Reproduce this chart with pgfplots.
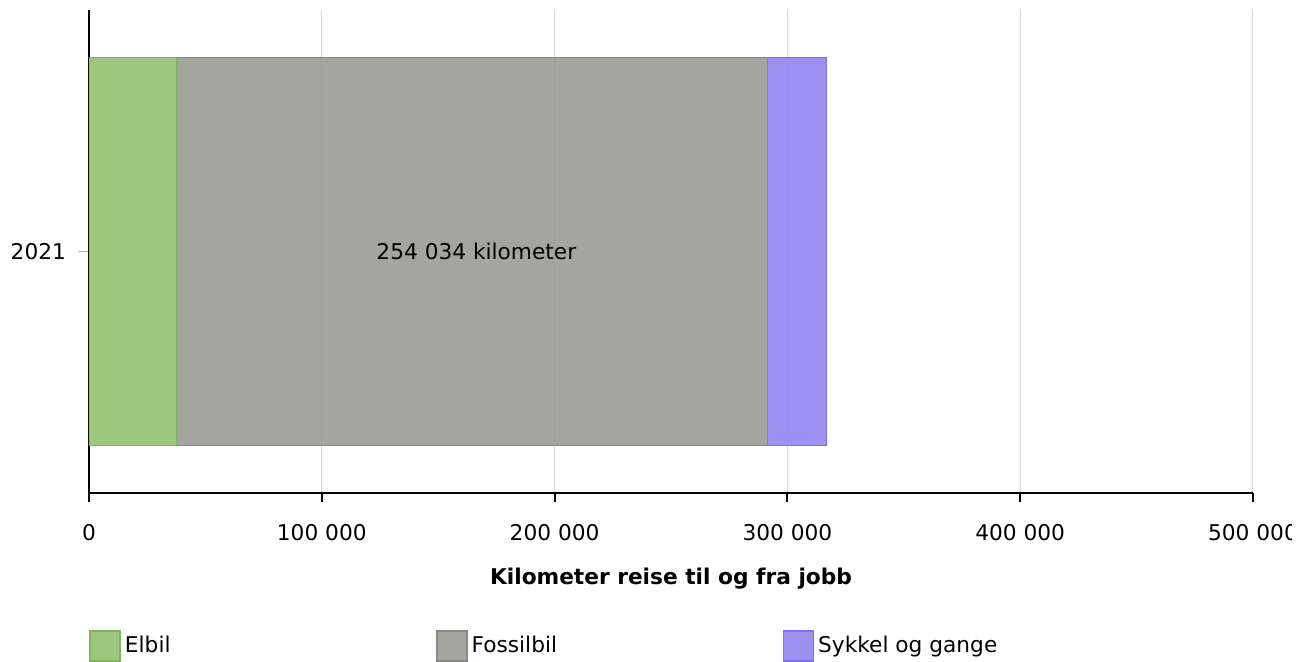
\documentclass[border=0pt]{standalone}
\usepackage{fontspec}
\setmainfont{DejaVu Sans}
\usepackage{pgfplots}
\pgfplotsset{compat=1.18}
\definecolor{elbil}{RGB}{146,192,113}
\definecolor{elbilB}{RGB}{128,180,95}
\definecolor{fossil}{RGB}{153,155,148}
\definecolor{fossilB}{RGB}{135,137,130}
\definecolor{sykkel}{RGB}{147,132,241}
\definecolor{sykkelB}{RGB}{128,110,235}
\definecolor{gridgray}{RGB}{216,216,216}
\begin{document}
\begin{tikzpicture}[font=\fontsize{10.85}{13}\selectfont]
\begin{axis}[
  at={(0,0)}, anchor=south west,
  scale only axis, width=582pt, height=241.5pt,
  xbar stacked, bar width=194pt,
  xmin=0, xmax=500000, ymin=-1, ymax=1,
  ytick={0}, yticklabels={2021},
  xtick={0,100000,200000,300000,400000,500000},
  xticklabels={0,100 000,200 000,300 000,400 000,500 000},
  scaled x ticks=false,
  axis lines*=left,
  x axis line style={line width=1pt, black},
  y axis line style={line width=0.6pt, black},
  tick align=outside,
  major tick length=4.5pt,
  xtick style={line width=1pt, black},
  ytick style={line width=0.5pt, color=gray!60, /pgfplots/major tick length=5.5pt},
  xmajorgrids, grid style={color=gridgray, line width=0.5pt},
  xticklabel style={anchor=center, yshift=-15.5pt},
  yticklabel style={xshift=-3.5pt},
  xlabel={\bfseries Kilometer reise til og fra jobb},
  xlabel style={at={(axis description cs:0.5,0)}, anchor=center, yshift=-43pt},
  legend columns=3,
  legend style={at={(axis description cs:0,0)}, anchor=west, yshift=-76.5pt,
    draw=none, fill=none, inner sep=0pt, nodes={inner sep=0pt, inner xsep=2pt},
    /tikz/every even column/.append style={column sep=0pt}},
  legend cell align=left,
]
\addplot[fill=elbil, fill opacity=0.9, draw=elbilB, line width=0.5pt,
  legend image code/.code={\draw[fill=elbil, fill opacity=0.9, draw=elbilB, line width=0.8pt] (0pt,-7.5pt) rectangle (15pt,7.5pt);}]
  coordinates {(37500,0)};
\addlegendentry{\makebox[153.5pt][l]{Elbil}}
\addplot[fill=fossil, fill opacity=0.9, draw=fossilB, line width=0.5pt,
  nodes near coords={254 034 kilometer},
  every node near coord/.append style={anchor=center, xshift=2.2pt,
    text=black, text opacity=1, fill opacity=1, inner sep=0pt},
  legend image code/.code={\draw[fill=fossil, fill opacity=0.9, draw=fossilB, line width=0.8pt] (0pt,-7.5pt) rectangle (15pt,7.5pt);}]
  coordinates {(254034,0)};
\addlegendentry{\makebox[153.5pt][l]{Fossilbil}}
\addplot[fill=sykkel, fill opacity=0.9, draw=sykkelB, line width=0.5pt,
  legend image code/.code={\draw[fill=sykkel, fill opacity=0.9, draw=sykkelB, line width=0.8pt] (0pt,-7.5pt) rectangle (15pt,7.5pt);}]
  coordinates {(25300,0)};
\addlegendentry{Sykkel og gange}
\end{axis}
\fill[white] (601.5pt,-84pt) rectangle (612pt,246.5pt);
\pgfresetboundingbox
\useasboundingbox (-44.5pt,-84pt) rectangle (612pt,246.5pt);
\end{tikzpicture}
\end{document}
